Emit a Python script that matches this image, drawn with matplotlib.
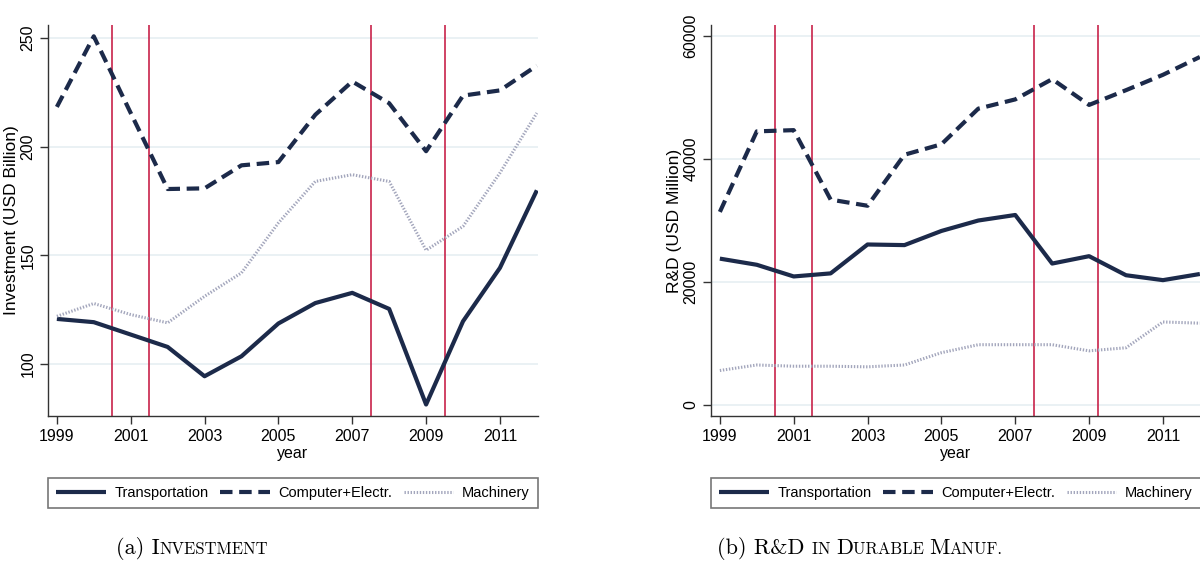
import numpy as np
import matplotlib
matplotlib.use("Agg")
import matplotlib.pyplot as plt
from matplotlib.offsetbox import TextArea, HPacker, AnchoredOffsetbox

# data
years = np.arange(1999, 2013)
inv_transport = [120.7, 119.2, 113.5, 107.8, 94.3, 103.5, 118.6, 128.0, 132.7, 125.3, 81.3, 119.6, 144.2, 179.9]
inv_computer = [218.3, 250.8, 215.5, 180.5, 180.8, 191.4, 192.9, 214.7, 230.0, 220.0, 197.9, 223.5, 225.9, 237.3]
inv_machinery = [121.9, 127.8, 122.7, 118.9, 131.1, 141.9, 164.9, 184.0, 187.1, 184.0, 152.3, 163.3, 187.9, 215.5]

rd_transport = [23800, 22800, 20900, 21400, 26100, 26000, 28300, 30000, 30900, 23000, 24200, 21100, 20300, 21300]
rd_computer = [31400, 44500, 44700, 33400, 32400, 40700, 42400, 48200, 49700, 53000, 48800, 51200, 53700, 56600]
rd_machinery = [5600, 6500, 6300, 6300, 6200, 6500, 8500, 9800, 9800, 9800, 8800, 9300, 13500, 13300]

recess_a = [2000.5, 2001.5, 2007.5, 2009.5]
recess_b = [2000.5, 2001.5, 2007.5, 2009.25]
series_names = ["Transportation", "Computer+Electr.", "Machinery"]

sans = "Liberation Sans"
navy = "#1c2a4a"
red = "#c8234a"
grid_c = "#e6eff2"

fig = plt.figure(figsize=(12, 5.79), dpi=100)


def panel(rect, t, c, m, recess, ylim, yticks, ylabel):
    ax = fig.add_axes(rect)
    ax.plot(years, t, color=navy, lw=3.0, solid_capstyle="butt", label=series_names[0], zorder=3)
    ax.plot(years, c, color=navy, lw=3.0, ls=(0, (3, 1.6)), label=series_names[1], zorder=3)
    ax.plot(years, m, color="#a3a6bc", lw=2.2, ls=(0, (0.45, 0.55)), label=series_names[2], zorder=3)
    for r in recess:
        ax.axvline(r, color=red, lw=1.2, zorder=2)
    ax.set_xlim(1998.76, 2012.03)
    ax.set_ylim(*ylim)
    ax.set_xticks(np.arange(1999, 2013, 2))
    ax.set_yticks(yticks)
    for v in yticks:
        ax.axhline(v, color=grid_c, lw=1.2, zorder=1)
    for s in ["top", "right"]:
        ax.spines[s].set_visible(False)
    for s in ["left", "bottom"]:
        ax.spines[s].set_color("#333333")
        ax.spines[s].set_linewidth(1.0)
    ax.tick_params(direction="out", length=6, color="#333333", width=1.0, pad=3)
    for lab in ax.get_xticklabels():
        lab.set_fontfamily(sans)
        lab.set_fontsize(11.5)
    for lab in ax.get_yticklabels():
        lab.set_fontfamily(sans)
        lab.set_fontsize(11.5)
        lab.set_rotation(90)
        lab.set_va("center")
    ax.set_xlabel("year", fontfamily=sans, fontsize=11.5, labelpad=2)
    ax.set_ylabel(ylabel, fontfamily=sans, fontsize=12.5, labelpad=1)
    leg = ax.legend(loc="center", ncol=3, mode="expand", bbox_to_anchor=(0, -0.242, 1, 0.09),
                    borderaxespad=0, fancybox=False, frameon=True, borderpad=0.55,
                    handlelength=3.4, handletextpad=0.6, prop={"family": sans, "size": 10.5})
    leg.get_frame().set_edgecolor("#555555")
    leg.get_frame().set_linewidth(1.2)
    return ax


ax1 = panel([0.04, 0.2815, 0.4083, 0.6753], inv_transport, inv_computer, inv_machinery,
            recess_a, (76, 256), [100, 150, 200, 250], "Investment (USD Billion)")
ax2 = panel([0.5925, 0.2815, 0.4083, 0.6753], rd_transport, rd_computer, rd_machinery,
            recess_b, (-1800, 61800), [0, 20000, 40000, 60000], "R&D (USD Million)")


def caption(parts, xc, yc):
    boxes = []
    for txt, big in parts:
        boxes.append(TextArea(txt, textprops=dict(family="cmr10", size=16 if big else 12)))
    hp = HPacker(children=boxes, align="baseline", pad=0, sep=0)
    ab = AnchoredOffsetbox(loc="center", child=hp, pad=0, borderpad=0, frameon=False,
                           bbox_to_anchor=(xc, yc), bbox_transform=fig.transFigure)
    fig.add_artist(ab)


caption([("(a) I", True), ("NVESTMENT", False)], 192 / 1200, 1 - 549 / 579)
caption([("(b) R&D ", True), ("IN ", False), ("D", True), ("URABLE ", False),
         ("M", True), ("ANUF.", False)], 860 / 1200, 1 - 549 / 579)

fig.savefig("out.png", dpi=100)
